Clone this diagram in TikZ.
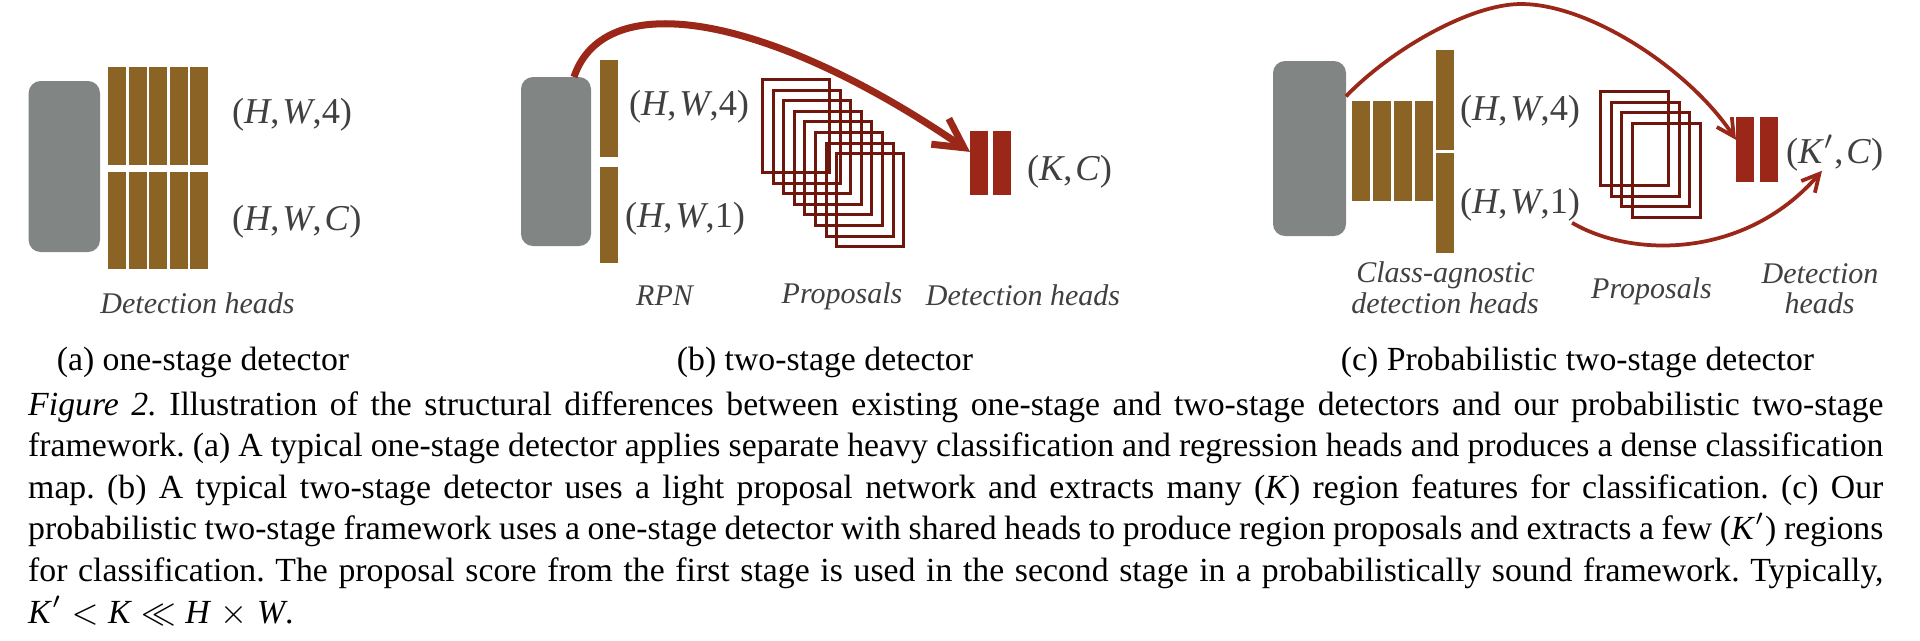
\documentclass[tikz,border=0pt]{standalone}
\usepackage{fontspec}
\setmainfont{Liberation Serif}
\usetikzlibrary{arrows.meta,calc}
\definecolor{blockgray}{HTML}{818685}
\definecolor{headbrown}{HTML}{8A6325}
\definecolor{headred}{HTML}{9A2717}
\definecolor{propred}{HTML}{6F170C}
\definecolor{labgray}{HTML}{404040}
\def\pxu{0.26667pt}
\frenchspacing
\begin{document}
\begin{tikzpicture}[x=0.26667pt,y=-0.26667pt,
  backbone/.style={fill=blockgray, draw=none, rounded corners=3.2pt, inner sep=0pt, outer sep=0pt},
  headbar/.style={fill=headbrown, draw=none, inner sep=0pt, outer sep=0pt, minimum width=18*\pxu},
  clsbar/.style={fill=headred, draw=none, inner sep=0pt, outer sep=0pt, minimum width=18*\pxu},
  proposal/.style={draw=propred, line width=0.8pt, inner sep=0pt, outer sep=0pt},
  dimlabel/.style={text=labgray, font=\fontsize{9.7}{11}\selectfont, inner sep=0pt, outer sep=0pt, anchor=base west},
  partlabel/.style={text=labgray, font=\fontsize{8}{9}\selectfont\itshape, inner sep=0pt, anchor=base},
  subcap/.style={font=\fontsize{9}{11}\selectfont, inner sep=0pt, anchor=base},
  capline/.style={font=\fontsize{9}{11}\selectfont, inner sep=0pt, anchor=base west},
  bigflow/.style={draw=headred, line width=1.87pt, -{Straight Barb[length=7.7pt,width=8.3pt]}},
  flow/.style={draw=headred, line width=1.0pt, -{Straight Barb[length=4.6pt,width=4.8pt]}}]
\useasboundingbox (0,0) rectangle (1920,640);
\fill[white] (0,0) rectangle (1920,640);

% ---------- (a) one-stage detector ----------
\node[backbone, minimum width=71.4*\pxu, minimum height=171*\pxu] (bba) at (64.3,166.5) {};
\foreach \i in {0,...,4} {
  \node[headbar, minimum height=98*\pxu] (ra\i) at ({117+20.6*\i},116) {};
  \node[headbar, minimum height=97*\pxu] (ca\i) at ({117+20.6*\i},220.5) {};
}
\node[dimlabel] (la1) at (232,123) {(\textit{H},\hspace{0.08em}\textit{W},4)};
\node[dimlabel] (la2) at (232,230) {(\textit{H},\hspace{0.08em}\textit{W},\hspace{0.08em}\textit{C})};
\node[partlabel] (ta) at (197.5,313) {Detection heads};

% ---------- (b) two-stage detector ----------
\node[backbone, minimum width=70*\pxu, minimum height=169*\pxu] (bbb) at (556,161.5) {};
\node[headbar, minimum height=97*\pxu] (rpnb1) at (609,108.5) {};
\node[headbar, minimum height=96*\pxu] (rpnb2) at (609,215) {};
\node[dimlabel] (lb1) at (629,115) {(\textit{H},\hspace{0.08em}\textit{W},4)};
\node[dimlabel] (lb2) at (625,227) {(\textit{H},\hspace{0.08em}\textit{W},1)};
\foreach \i in {0,...,7} {
  \node[proposal, minimum width=67*\pxu, minimum height=93*\pxu] (pb\i) at ({796+10.6*\i},{126+10.6*\i}) {};
}
\node[clsbar, minimum height=64*\pxu] (rb1) at (979,163) {};
\node[clsbar, minimum height=64*\pxu] (rb2) at (1002,163) {};
\node[dimlabel] (lb3) at (1027,180) {(\textit{K},\hspace{0.08em}\textit{C})};
\node[partlabel] (tb1) at (664.5,305) {RPN};
\node[partlabel] (tb2) at (842,303) {Proposals};
\node[partlabel] (tb3) at (1023,305) {Detection heads};
\draw[bigflow] (bbb.78) .. controls +(31,-92) and +(-200,-137) .. (rb1.129);

% ---------- (c) probabilistic two-stage detector ----------
\node[backbone, minimum width=73*\pxu, minimum height=175*\pxu] (bbc) at (1309.5,148.5) {};
\foreach \i in {0,...,3} {
  \node[headbar, minimum height=100*\pxu] (hc\i) at ({1361+21*\i},151) {};
}
\node[headbar, minimum height=100*\pxu] (hct) at (1445,100) {};
\node[headbar, minimum height=100*\pxu] (hcb) at (1445,203) {};
\node[dimlabel] (lc1) at (1460,120) {(\textit{H},\hspace{0.08em}\textit{W},4)};
\node[dimlabel] (lc2) at (1460,213) {(\textit{H},\hspace{0.08em}\textit{W},1)};
\foreach \i in {0,...,3} {
  \node[proposal, minimum width=68*\pxu, minimum height=94*\pxu] (pc\i) at ({1634.5+10.7*\i},{138.5+10.7*\i}) {};
}
\node[clsbar, minimum height=65*\pxu] (rc1) at (1745,149.5) {};
\node[clsbar, minimum height=65*\pxu] (rc2) at (1769,149.5) {};
\node[dimlabel] (lc3) at (1786,163) {(\textit{K}$'$,\hspace{0.08em}\textit{C})};
\node[partlabel] (tc1) at (1445.5,282) {Class-agnostic};
\node[partlabel] (tc2) at (1445,313) {detection heads};
\node[partlabel] (tc3) at (1651.5,298) {Proposals};
\node[partlabel] (tc4) at (1820,283) {Detection};
\node[partlabel] (tc5) at (1819.5,313) {heads};
\coordinate (peakc) at (1521,4);
\draw[flow] (bbc.55) .. controls +(44,-46) and +(-51,0) .. (peakc)
  .. controls +(69,0) and +(-46,-70) .. (rc1.133);
\draw[flow] ($(lc2.south east)+(-8,2)$) .. controls +(59,35) and +(-77,89) .. ($(lc3.south west)+(36,0)$);

% ---------- sub-captions ----------
\node[subcap] (sa) at (203,370) {(a) one-stage detector};
\node[subcap] (sb) at (825,370) {(b) two-stage detector};
\node[subcap] (sc) at (1577.5,370) {(c) Probabilistic two-stage detector};

% ---------- caption ----------
\node[capline] (cap1) at (27.5,415) {\makebox[494.7pt][s]{\textit{Figure 2.} Illustration of the structural differences between existing one-stage and two-stage detectors and our probabilistic two-stage}};
\node[capline] (cap2) at (27.5,456.6) {\makebox[494.7pt][s]{framework. (a) A typical one-stage detector applies separate heavy classification and regression heads and produces a dense classification}};
\node[capline] (cap3) at (27.5,498.2) {\makebox[494.7pt][s]{map. (b) A typical two-stage detector uses a light proposal network and extracts many (\textit{K}) region features for classification. (c) Our}};
\node[capline] (cap4) at (27.5,539.8) {\makebox[494.7pt][s]{probabilistic two-stage framework uses a one-stage detector with shared heads to produce region proposals and extracts a few (\textit{K}$'$) regions}};
\node[capline] (cap5) at (27.5,581.4) {\makebox[494.7pt][s]{for classification. The proposal score from the first stage is used in the second stage in a probabilistically sound framework. Typically,}};
\node[capline] (cap6) at (27.5,623) {\textit{K}$'$\;$<$\;\textit{K}\;$\ll$\;\textit{H}\;$\times$\;\textit{W}.};
\end{tikzpicture}
\end{document}
